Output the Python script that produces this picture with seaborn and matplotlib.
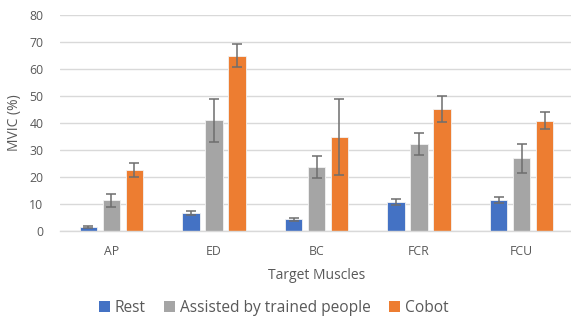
import matplotlib
matplotlib.use("Agg")
import matplotlib.pyplot as plt
import seaborn as sns
import pandas as pd
import numpy as np

muscles = ["AP", "ED", "BC", "FCR", "FCU"]
conditions = ["Rest", "Assisted by trained people", "Cobot"]
rest_vals = [1.4, 6.7, 4.3, 10.8, 11.4]
rest_err = [0.3, 0.7, 0.55, 1.2, 1.1]
assist_vals = [11.3, 41.0, 23.8, 32.2, 27.0]
assist_err = [2.4, 8.0, 4.0, 4.2, 5.4]
cobot_vals = [22.5, 64.9, 34.8, 45.2, 40.9]
cobot_err = [2.6, 4.2, 14.2, 4.9, 3.0]
colors = ["#4472C4", "#A5A5A5", "#ED7D31"]

vals = [rest_vals, assist_vals, cobot_vals]
errs = [rest_err, assist_err, cobot_err]
rows = []
for c, v, e in zip(conditions, vals, errs):
    for m, vv, ee in zip(muscles, v, e):
        rows.append({"Muscle": m, "Condition": c, "MVIC": vv, "err": ee})
df = pd.DataFrame(rows)

sns.set_theme(style="white")
plt.rcParams['font.family'] = ['Open Sans', 'DejaVu Sans']

fig = plt.figure(figsize=(5.71, 3.18), dpi=100)
ax = fig.add_axes([60/571, 1-231/318, 513/571, 216/318])

sns.barplot(data=df, x="Muscle", y="MVIC", hue="Condition", order=muscles,
            hue_order=conditions, palette=colors, saturation=1, width=0.67, gap=0.24,
            errorbar=None, ax=ax, edgecolor="#F2F2F2", linewidth=0.6, legend=False)

# error bars at bar centres
for i, c in enumerate(conditions):
    cont = ax.containers[i]
    xs = [p.get_x() + p.get_width() / 2 for p in cont.patches]
    ax.errorbar(xs, vals[i], yerr=errs[i], fmt="none", ecolor="#6E6E6E",
                elinewidth=1.1, capsize=3.5, capthick=1.1, zorder=5)

ax.set_ylim(0, 80)
ax.set_xlim(-0.5, 4.5)
ax.set_yticks(range(0, 81, 10))
ax.yaxis.grid(True, color="#D9D9D9", linewidth=1)
ax.set_axisbelow(True)
for s in ["top", "right", "left"]:
    ax.spines[s].set_visible(False)
ax.spines["bottom"].set_color("#D9D9D9")
ax.spines["bottom"].set_linewidth(1)
ax.tick_params(axis="both", length=0, colors="#595959", labelsize=8.8)
ax.tick_params(axis="x", pad=10)
ax.tick_params(axis="y", pad=12)
ax.set_xlabel("Target Muscles", color="#595959", fontsize=10, labelpad=7)
ax.set_ylabel("MVIC (%)", color="#595959", fontsize=10, labelpad=5)

from matplotlib.patches import Patch
handles = [Patch(facecolor=c, edgecolor="none") for c in colors]
fig.legend(handles, conditions, loc="center", bbox_to_anchor=(0.479, 10/318),
           ncol=3, frameon=False, fontsize=11.2, handlelength=0.7, handleheight=0.7,
           handletextpad=0.3, columnspacing=1.2, labelcolor="#595959")

fig.savefig("out.png", dpi=100)
